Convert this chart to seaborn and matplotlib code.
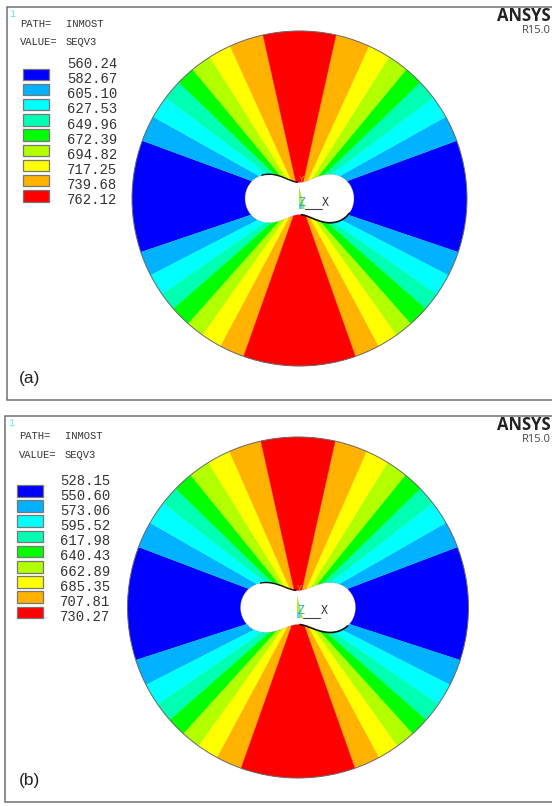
import numpy as np
import matplotlib
matplotlib.use("Agg")
import matplotlib.pyplot as plt
from matplotlib.patches import Wedge, Circle, Polygon, Rectangle
import seaborn as sns

# contour levels in the legends
levels_a = ["560.24", "582.67", "605.10", "627.53", "649.96", "672.39", "694.82", "717.25", "739.68", "762.12"]
levels_b = ["528.15", "550.60", "573.06", "595.52", "617.98", "640.43", "662.89", "685.35", "707.81", "730.27"]

# ansys contour colours, low to high
band_colors = ["#0000ff", "#00b2ff", "#00ffff", "#00ffb2", "#00ff00", "#b2ff00", "#ffff00", "#ffb200", "#ff0000"]

# band edges in degrees, measured from the horizontal (left/right are mirrored)
upper_edges_a = [20.2, 29.2, 37.0, 43.9, 50.4, 57.7, 65.5, 77.4]
lower_edges_a = [18.7, 27.3, 34.9, 41.2, 48.4, 54.7, 61.9, 70.5]
upper_edges_b = [20.8, 29.8, 37.7, 44.2, 51.0, 58.3, 66.3, 77.4]
lower_edges_b = [18.0, 27.0, 34.6, 41.3, 47.8, 54.4, 61.7, 70.5]

sns.set_theme(style="white")
plt.rcParams["font.family"] = ["Liberation Sans", "DejaVu Sans"]
palette = sns.color_palette(band_colors)

fig = plt.figure(figsize=(5.52, 8.06), dpi=100)
ax = fig.add_axes([0, 0, 1, 1])
ax.set_xlim(0, 552)
ax.set_ylim(806, 0)
ax.axis("off")

TXT = "#333333"
MONO = "Liberation Mono"


def hole_outline(a, b, stretch):
    # cassini oval for the peanut shaped bore
    th = np.linspace(0, 2 * np.pi, 721)
    r2 = a**2 * np.cos(2 * th) + np.sqrt(b**4 - a**4 * np.sin(2 * th) ** 2)
    r = np.sqrt(r2)
    return r * np.cos(th), r * np.sin(th) * stretch


def draw_panel(frame, center, radius, upper, lower, levels, hole, legend, label):
    cx, cy = center
    left, top, bottom = frame
    ax.add_patch(Rectangle((left, top), 600, bottom - top, fc="white", ec="#707070", lw=1.1, zorder=1))

    # y axis points down, so screen-up is a negative angle
    ax.add_patch(Wedge(center, radius, -upper[0], lower[0], fc=palette[0], ec="none", zorder=2))
    ax.add_patch(Wedge(center, radius, 180 - lower[0], 180 + upper[0], fc=palette[0], ec="none", zorder=2))
    for i in range(1, 8):
        c = palette[i]
        ax.add_patch(Wedge(center, radius, -upper[i], -upper[i - 1], fc=c, ec=c, lw=0.2, zorder=2))
        ax.add_patch(Wedge(center, radius, -180 + upper[i - 1], -180 + upper[i], fc=c, ec=c, lw=0.2, zorder=2))
        ax.add_patch(Wedge(center, radius, lower[i - 1], lower[i], fc=c, ec=c, lw=0.2, zorder=2))
        ax.add_patch(Wedge(center, radius, 180 - lower[i], 180 - lower[i - 1], fc=c, ec=c, lw=0.2, zorder=2))
    red = palette[8]
    ax.add_patch(Wedge(center, radius, -180 + upper[7], -upper[7], fc=red, ec=red, lw=0.2, zorder=2))
    ax.add_patch(Wedge(center, radius, lower[7], 180 - lower[7], fc=red, ec=red, lw=0.2, zorder=2))
    ax.add_patch(Circle(center, radius, fc="none", ec="#6a6a6a", lw=0.7, zorder=3))

    # bore
    hx, hy = hole_outline(*hole)
    ax.add_patch(Polygon(np.column_stack([cx + hx, cy + hy]), fc="white", ec="#777777", lw=0.5, ls=":", zorder=4))
    upper_left = (hx < -2) & (hx > -38) & (hy < 0)
    lower_right = (hx > 2) & (hx < 50) & (hy > 0)
    ax.plot(cx + hx[upper_left], cy + hy[upper_left], color="#111111", lw=1.0, zorder=5)
    ax.plot(cx + hx[lower_right], cy + hy[lower_right], color="#111111", lw=1.2, zorder=5)

    # triad at the origin
    tx, ty = cx, cy + 10.5
    ax.add_patch(Polygon([(tx - 1, ty - 23), (tx - 1, ty), (tx + 5, ty)], fc="#b2e64c", ec="none", zorder=6))
    ax.add_patch(Rectangle((tx - 1, ty - 5), 3, 5, fc="#66ccee", ec="none", zorder=6))
    ax.plot([tx + 5, tx + 22], [ty, ty], color="#444444", lw=0.8, zorder=6)
    ax.text(tx + 2, ty - 29.5, "Y", color="#e0a020", fontsize=6.5, family=MONO, ha="center", va="center", zorder=7)
    ax.text(tx + 3, ty - 6.5, "Z", color="#22aacc", fontsize=8.5, family=MONO, ha="center", va="center", zorder=7)
    ax.text(tx + 26, ty - 6.5, "X", color="#333333", fontsize=8.5, family=MONO, ha="center", va="center", zorder=7)

    # legend block
    lx, path_y, value_y, val_x, val_y0, sw_x, sw_y0 = legend
    ax.text(left + 6, top + 7, "1", color="#66e6f0", fontsize=7, family=MONO, ha="center", va="center", zorder=7)
    ax.text(lx, path_y, "PATH=", color=TXT, fontsize=7.6, family=MONO, va="center", zorder=7)
    ax.text(lx + 46, path_y, "INMOST", color=TXT, fontsize=7.6, family=MONO, va="center", zorder=7)
    ax.text(lx, value_y, "VALUE=", color=TXT, fontsize=7.6, family=MONO, va="center", zorder=7)
    ax.text(lx + 46, value_y, "SEQV3", color=TXT, fontsize=7.6, family=MONO, va="center", zorder=7)
    for i, lev in enumerate(levels):
        ax.text(val_x, val_y0 + i * 15.15, lev, color=TXT, fontsize=10, family=MONO, va="center", zorder=7)
    for i, c in enumerate(palette):
        ax.add_patch(Rectangle((sw_x, sw_y0 + i * 15.2 - 5.8), 26, 11.6, fc=c, ec="#777777", lw=0.9, zorder=7))

    # branding and panel tag
    ax.text(551, top + 9, "ANSYS", color="#222222", fontsize=12, family="Open Sans", weight="bold", ha="right", va="center", zorder=7)
    ax.text(551, top + 23.5, "R15.0", color="#444444", fontsize=8, family="Open Sans", ha="right", va="center", zorder=7)
    ax.text(19, bottom - 22, label, color="#222222", fontsize=12.5, va="center", zorder=7)


draw_panel((6.5, 7, 400), (299.5, 198.5), 167.5, upper_edges_a, lower_edges_a, levels_a,
           (37.2, 39.8, 1.14), (20, 24.3, 42.3, 66.7, 64, 23, 74.3), "(a)")
draw_panel((5, 415.7, 802), (298, 607.5), 170.5, upper_edges_b, lower_edges_b, levels_b,
           (39.2, 42.1, 1.105), (18.7, 435.7, 455.3, 60.3, 480.7, 17, 490.7), "(b)")

fig.savefig("out.png", dpi=100)
